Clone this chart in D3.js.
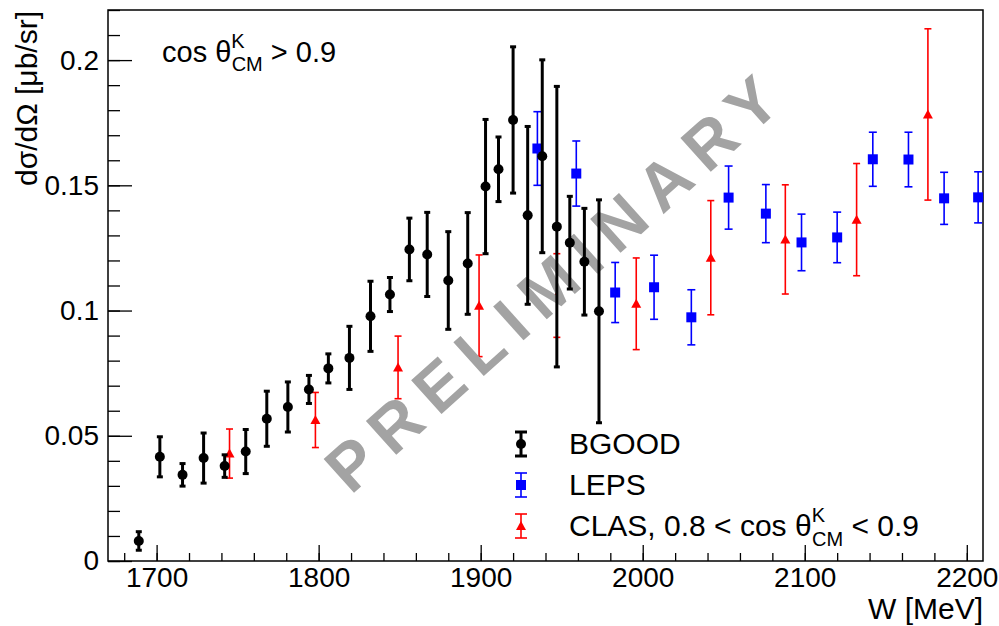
<!DOCTYPE html>
<head>
  <meta charset="utf-8">
  <script src="https://cdn.jsdelivr.net/npm/d3@7"></script>
  <style>
    body { margin: 0; background: #fff; }
    text { font-family: "Liberation Sans", Arial, Helvetica, sans-serif; }
  </style>
</head>
<body>

<svg width="999" height="626"></svg>

<script type="text/javascript">
// Data: W [MeV], dsigma/dOmega [mub/sr], symmetric error
var bgoodW   = [1689, 1702, 1716, 1729, 1742, 1755, 1768, 1781, 1794, 1806, 1819, 1832, 1844,
                1856, 1867, 1880, 1892, 1903, 1911, 1920, 1929, 1938, 1947, 1955, 1964, 1973];
var bgoodXs  = [0.008, 0.0416, 0.0344, 0.0411, 0.0379, 0.0437, 0.0568, 0.0615, 0.0685, 0.0769, 0.0811, 0.0977, 0.1064,
                0.1244, 0.1224, 0.112, 0.1188, 0.1495, 0.1564, 0.1761, 0.138, 0.1616, 0.1335, 0.1271, 0.1195, 0.0997];
var bgoodErr = [0.0037, 0.008, 0.0045, 0.010, 0.0045, 0.0088, 0.011, 0.010, 0.0056, 0.0058, 0.0126, 0.014, 0.0068,
                0.0125, 0.0168, 0.0195, 0.0203, 0.0268, 0.0129, 0.0292, 0.0355, 0.0385, 0.056, 0.0185, 0.0213, 0.0445];

var lepsW   = [1935, 1959, 1983, 2007, 2030, 2053, 2076, 2098, 2120, 2142, 2164, 2186, 2207];
var lepsXs  = [0.1647, 0.1547, 0.1072, 0.1093, 0.0973, 0.1451, 0.1387, 0.1272, 0.1292, 0.1604, 0.1603, 0.1448, 0.1452];
var lepsErr = [0.0147, 0.013, 0.012, 0.0128, 0.011, 0.0126, 0.0116, 0.0113, 0.0101, 0.0108, 0.0109, 0.0104, 0.0102];

var clasW   = [1745, 1798, 1849, 1899, 1947, 1996, 2042, 2088, 2132, 2176];
var clasXs  = [0.0429, 0.0563, 0.0773, 0.1019, 0.106, 0.1027, 0.1211, 0.1284, 0.1363, 0.1783];
var clasErr = [0.0098, 0.011, 0.0125, 0.0203, 0.0167, 0.0183, 0.0228, 0.0218, 0.0224, 0.0342];

var xMajor = [1700, 1800, 1900, 2000, 2100, 2200];
var yMajor = [0, 0.05, 0.1, 0.15, 0.2];

// Frame edges (note: "top" is reserved on window, so use other names)
var frameL = 108, frameT = 10, frameR = 983, frameB = 561;

var svg = d3.select("svg");

var x = d3.scaleLinear().domain([1670, 2210]).range([frameL, frameR]);
var y = d3.scaleLinear().domain([0, 0.22]).range([frameB, frameT]);

var xMinor = d3.range(1680, 2211, 20);
var yMinor = d3.range(0, 0.2201, 0.01);

// ROOT style: ticks pointing inward
var gx = svg.append("g").attr("transform", "translate(0," + frameB + ")");
gx.call(d3.axisBottom(x).tickValues(xMinor).tickSize(-8).tickFormat(""));
gx.append("g").call(d3.axisBottom(x).tickValues(xMajor).tickSize(-16).tickPadding(6).tickFormat(d3.format("d")));

var gy = svg.append("g").attr("transform", "translate(" + frameL + ",0)");
gy.call(d3.axisLeft(y).tickValues(yMinor).tickSize(-12).tickFormat(""));
gy.append("g").call(d3.axisLeft(y).tickValues(yMajor).tickSize(-24).tickPadding(9)
  .tickFormat(function(d) { return String(+d.toFixed(2)); }));

svg.selectAll(".domain").remove();
svg.selectAll(".tick line").attr("stroke", "#000").attr("stroke-width", 1.3);
svg.selectAll(".tick text").attr("fill", "#000").style("font-size", "28px");

svg.append("rect")
  .attr("x", frameL).attr("y", frameT)
  .attr("width", frameR - frameL).attr("height", frameB - frameT)
  .attr("fill", "none").attr("stroke", "#000").attr("stroke-width", 1.5);

// Axis titles
svg.append("text")
  .attr("x", frameR).attr("y", 619)
  .attr("text-anchor", "end")
  .style("font-size", "30px")
  .text("W [MeV]");

svg.append("text")
  .attr("transform", "translate(37,11) rotate(-90)")
  .attr("text-anchor", "end")
  .style("font-size", "30px")
  .text("dσ/dΩ [μb/sr]");

// Error bar series
function errorSeries(W, v, e, color, lw, cap) {
  var g = svg.append("g");
  var pts = W.map(function(w, i) { return { w: w, v: v[i], e: e[i] }; });
  g.selectAll("line.bar").data(pts).enter().append("line")
    .attr("x1", function(d) { return x(d.w); }).attr("x2", function(d) { return x(d.w); })
    .attr("y1", function(d) { return y(d.v - d.e); }).attr("y2", function(d) { return y(d.v + d.e); })
    .attr("stroke", color).attr("stroke-width", lw);
  [-1, 1].forEach(function(s) {
    g.selectAll("line.cap" + s).data(pts).enter().append("line")
      .attr("x1", function(d) { return x(d.w) - cap; }).attr("x2", function(d) { return x(d.w) + cap; })
      .attr("y1", function(d) { return y(d.v + s * d.e); }).attr("y2", function(d) { return y(d.v + s * d.e); })
      .attr("stroke", color).attr("stroke-width", lw);
  });
  return { g: g, pts: pts };
}

var leps = errorSeries(lepsW, lepsXs, lepsErr, "#0000ff", 1.6, 4);
leps.g.selectAll("rect").data(leps.pts).enter().append("rect")
  .attr("x", function(d) { return x(d.w) - 5; })
  .attr("y", function(d) { return y(d.v) - 5; })
  .attr("width", 10).attr("height", 10)
  .attr("fill", "#0000ff");

var clas = errorSeries(clasW, clasXs, clasErr, "#ff0000", 1.6, 3.5);
clas.g.selectAll("path").data(clas.pts).enter().append("path")
  .attr("d", function(d) {
    var cx = x(d.w), cy = y(d.v);
    return "M" + (cx - 5) + "," + (cy + 4) + "L" + (cx + 5) + "," + (cy + 4) + "L" + cx + "," + (cy - 5) + "Z";
  })
  .attr("fill", "#ff0000");

// Watermark (drawn under the BGOOD points)
svg.append("text")
  .attr("transform", "translate(556,279) rotate(-42)")
  .attr("text-anchor", "middle")
  .attr("dy", "0.36em")
  .attr("fill", "#a3a3a3")
  .style("font-size", "66px")
  .style("font-weight", "bold")
  .style("letter-spacing", "13px")
  .text("PRELIMINARY");

var bgood = errorSeries(bgoodW, bgoodXs, bgoodErr, "#000", 3, 3);
bgood.g.selectAll("circle").data(bgood.pts).enter().append("circle")
  .attr("cx", function(d) { return x(d.w); })
  .attr("cy", function(d) { return y(d.v); })
  .attr("r", 5)
  .attr("fill", "#000");

// Top-left label
var lab = svg.append("text").attr("x", 162).attr("y", 62).style("font-size", "29px");
lab.append("tspan").text("cos θ");
lab.append("tspan").attr("dy", -14).style("font-size", "20px").text("K");
lab.append("tspan").attr("dx", -13).attr("dy", 23).style("font-size", "20px").text("CM");
lab.append("tspan").attr("dy", -9).text(" > 0.9");

// Legend
var legX = 521, textX = 569;
var lg = svg.append("g");
function legBar(cy, color, lw) {
  lg.append("line").attr("x1", legX).attr("x2", legX).attr("y1", cy - 12).attr("y2", cy + 12)
    .attr("stroke", color).attr("stroke-width", lw);
  [-12, 12].forEach(function(o) {
    lg.append("line").attr("x1", legX - 6).attr("x2", legX + 6).attr("y1", cy + o).attr("y2", cy + o)
      .attr("stroke", color).attr("stroke-width", lw);
  });
}
legBar(444, "#000", 3);
lg.append("circle").attr("cx", legX).attr("cy", 444).attr("r", 5).attr("fill", "#000");
legBar(485, "#0000ff", 1.6);
lg.append("rect").attr("x", legX - 5).attr("y", 480).attr("width", 10).attr("height", 10).attr("fill", "#0000ff");
legBar(526, "#ff0000", 1.6);
lg.append("path").attr("d", "M" + (legX - 5) + ",530L" + (legX + 5) + ",530L" + legX + ",521Z").attr("fill", "#ff0000");

lg.append("text").attr("x", textX).attr("y", 454).style("font-size", "30px").text("BGOOD");
lg.append("text").attr("x", textX).attr("y", 495).style("font-size", "30px").text("LEPS");
var cl = lg.append("text").attr("x", textX).attr("y", 536).style("font-size", "30px");
cl.append("tspan").text("CLAS, 0.8 < cos θ");
cl.append("tspan").attr("dy", -14).style("font-size", "20px").text("K");
cl.append("tspan").attr("dx", -13).attr("dy", 24).style("font-size", "20px").text("CM");
cl.append("tspan").attr("dy", -10).text(" < 0.9");
</script>
</body>
</html>
